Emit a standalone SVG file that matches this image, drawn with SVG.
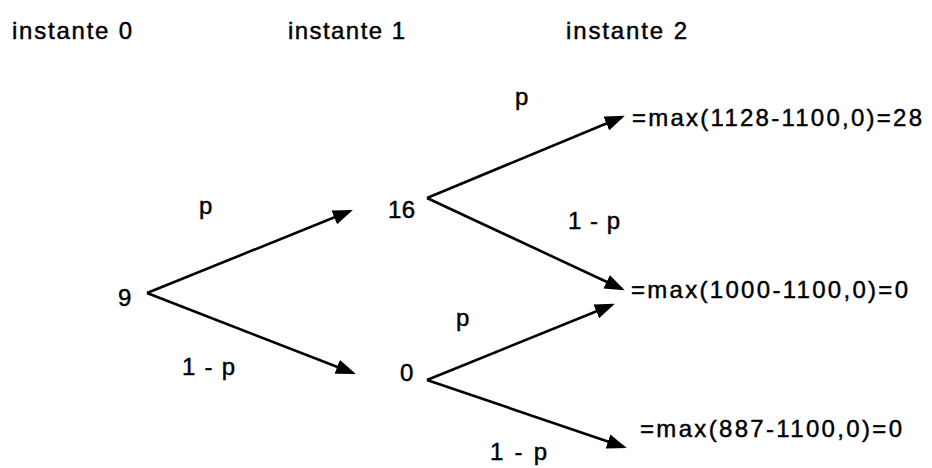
<svg xmlns="http://www.w3.org/2000/svg" width="932" height="468" viewBox="0 0 932 468">
  <style>
    text { font-family: "Liberation Sans", Arial, sans-serif; font-size: 24px; fill: #000; stroke: #000; stroke-width: 0.45; }
    .edge { stroke: #000; stroke-width: 2.6; fill: none; marker-end: url(#arrow); }
  </style>
  <defs>
    <marker id="arrow" markerUnits="userSpaceOnUse" markerWidth="20" markerHeight="15" viewBox="0 0 20 15" refX="17" refY="7.5" orient="auto">
      <path d="M0,0 L20,7.5 L0,15 Z" fill="#000"/>
    </marker>
  </defs>
  <rect width="932" height="468" fill="#fff"/>

  <g id="headers">
    <text x="12" y="39" textLength="120" lengthAdjust="spacing">instante 0</text>
    <text x="288" y="39" textLength="117" lengthAdjust="spacing">instante 1</text>
    <text x="566" y="39" textLength="121" lengthAdjust="spacing">instante 2</text>
  </g>

  <g id="connectors">
    <line class="edge" x1="147" y1="293" x2="350" y2="211"/>
    <line class="edge" x1="147" y1="293" x2="353" y2="373"/>
    <line class="edge" x1="427" y1="198" x2="622" y2="117"/>
    <line class="edge" x1="427" y1="198" x2="622" y2="289"/>
    <line class="edge" x1="427" y1="380" x2="612" y2="305"/>
    <line class="edge" x1="427" y1="380" x2="624" y2="447"/>
    <text x="199" y="214">p</text>
    <text x="182" y="375" textLength="53" lengthAdjust="spacing">1 - p</text>
    <text x="515" y="105">p</text>
    <text x="568" y="229" textLength="52" lengthAdjust="spacing">1 - p</text>
    <text x="456" y="326">p</text>
    <text x="490" y="460" textLength="57" lengthAdjust="spacing">1 - p</text>
  </g>

  <g id="node-9">
    <text x="118" y="306">9</text>
  </g>
  <g id="node-16">
    <text x="388" y="218" textLength="27" lengthAdjust="spacing">16</text>
  </g>
  <g id="node-0">
    <text x="400" y="381">0</text>
  </g>
  <g id="leaf-uu">
    <text x="632" y="126" textLength="290" lengthAdjust="spacing">=max(1128-1100,0)=28</text>
  </g>
  <g id="leaf-ud">
    <text x="631" y="298" textLength="277" lengthAdjust="spacing">=max(1000-1100,0)=0</text>
  </g>
  <g id="leaf-dd">
    <text x="640" y="437" textLength="262" lengthAdjust="spacing">=max(887-1100,0)=0</text>
  </g>
</svg>
